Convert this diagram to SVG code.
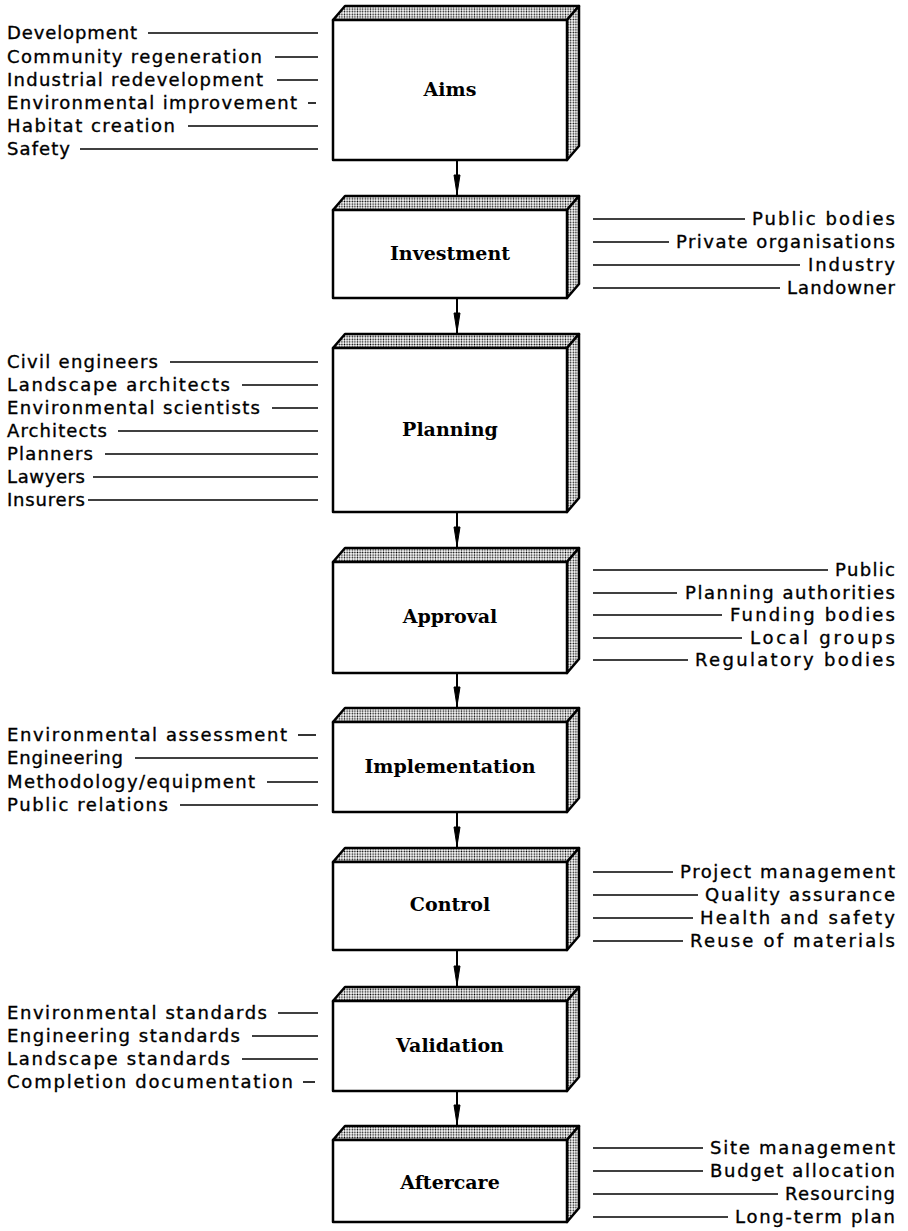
<svg xmlns="http://www.w3.org/2000/svg" width="908" height="1231" viewBox="0 0 908 1231">
<style>
.lbl{font-family:"DejaVu Sans","Liberation Sans",sans-serif;font-size:18px;fill:#000;stroke:#000;stroke-width:0.35}
.r{text-anchor:end}
.ttl{font-family:"DejaVu Serif","Liberation Serif",serif;font-weight:bold;font-size:19px;text-anchor:middle;fill:#000}
.lead{stroke:#000;stroke-width:1.6;fill:none}
.front{fill:#fff;stroke:#000;stroke-width:2.5;stroke-linejoin:round}
.side{fill:url(#dots);stroke:#000;stroke-width:2.5;stroke-linejoin:round}
.conn{stroke:#000;stroke-width:2;fill:none}
.head{fill:#000;stroke:#000;stroke-width:1}
</style>
<defs>
<pattern id="dots" width="2.6" height="2.6" patternUnits="userSpaceOnUse">
<rect width="2.6" height="2.6" fill="#fff"/>
<circle cx="1.3" cy="1.3" r="0.8" fill="#000"/>
</pattern>
</defs>
<rect width="908" height="1231" fill="#fff"/>

<!-- Connectors -->
<g id="connectors">
<line class="conn" x1="457" y1="160" x2="457" y2="206"/><polygon class="head" points="454,175 460,175 457,194"/>
<line class="conn" x1="457" y1="298" x2="457" y2="344"/><polygon class="head" points="454,313 460,313 457,332"/>
<line class="conn" x1="457" y1="512" x2="457" y2="558"/><polygon class="head" points="454,527 460,527 457,546"/>
<line class="conn" x1="457" y1="673" x2="457" y2="718"/><polygon class="head" points="454,687 460,687 457,706"/>
<line class="conn" x1="457" y1="812" x2="457" y2="858"/><polygon class="head" points="454,827 460,827 457,846"/>
<line class="conn" x1="457" y1="950" x2="457" y2="997"/><polygon class="head" points="454,966 460,966 457,985"/>
<line class="conn" x1="457" y1="1091" x2="457" y2="1136"/><polygon class="head" points="454,1105 460,1105 457,1124"/>
</g>

<!-- Aims -->
<g id="aims">
<polygon class="side" points="333,20 345,6 579,6 567,20"/>
<polygon class="side" points="567,20 579,6 579,146 567,160"/>
<rect class="front" x="333" y="20" width="234" height="140"/>
<text class="ttl" x="450" y="96">Aims</text>
<text class="lbl" x="7" y="39" textLength="130" lengthAdjust="spacing">Development</text><line class="lead" x1="148" y1="33" x2="318" y2="33"/>
<text class="lbl" x="7" y="63" textLength="255" lengthAdjust="spacing">Community regeneration</text><line class="lead" x1="275" y1="57" x2="318" y2="57"/>
<text class="lbl" x="7" y="86" textLength="256" lengthAdjust="spacing">Industrial redevelopment</text><line class="lead" x1="277" y1="80" x2="318" y2="80"/>
<text class="lbl" x="7" y="109" textLength="290" lengthAdjust="spacing">Environmental improvement</text><line class="lead" x1="308" y1="103" x2="316" y2="103"/>
<text class="lbl" x="7" y="132" textLength="168" lengthAdjust="spacing">Habitat creation</text><line class="lead" x1="188" y1="126" x2="318" y2="126"/>
<text class="lbl" x="7" y="155" textLength="63" lengthAdjust="spacing">Safety</text><line class="lead" x1="80" y1="149" x2="318" y2="149"/>
</g>

<!-- Investment -->
<g id="investment">
<polygon class="side" points="333,210 345,196 579,196 567,210"/>
<polygon class="side" points="567,210 579,196 579,284 567,298"/>
<rect class="front" x="333" y="210" width="234" height="88"/>
<text class="ttl" x="450" y="260">Investment</text>
<line class="lead" x1="593" y1="219" x2="745" y2="219"/><text class="lbl r" x="895" y="225" textLength="143" lengthAdjust="spacing">Public bodies</text>
<line class="lead" x1="593" y1="242" x2="669" y2="242"/><text class="lbl r" x="895" y="248" textLength="219" lengthAdjust="spacing">Private organisations</text>
<line class="lead" x1="593" y1="265" x2="800" y2="265"/><text class="lbl r" x="895" y="271" textLength="87" lengthAdjust="spacing">Industry</text>
<line class="lead" x1="593" y1="288" x2="780" y2="288"/><text class="lbl r" x="895" y="294" textLength="108" lengthAdjust="spacing">Landowner</text>
</g>

<!-- Planning -->
<g id="planning">
<polygon class="side" points="333,348 345,334 579,334 567,348"/>
<polygon class="side" points="567,348 579,334 579,498 567,512"/>
<rect class="front" x="333" y="348" width="234" height="164"/>
<text class="ttl" x="450" y="436">Planning</text>
<text class="lbl" x="7" y="368" textLength="151" lengthAdjust="spacing">Civil engineers</text><line class="lead" x1="170" y1="362" x2="318" y2="362"/>
<text class="lbl" x="7" y="391" textLength="223" lengthAdjust="spacing">Landscape architects</text><line class="lead" x1="242" y1="385" x2="318" y2="385"/>
<text class="lbl" x="7" y="414" textLength="253" lengthAdjust="spacing">Environmental scientists</text><line class="lead" x1="272" y1="408" x2="318" y2="408"/>
<text class="lbl" x="7" y="437" textLength="100" lengthAdjust="spacing">Architects</text><line class="lead" x1="118" y1="431" x2="318" y2="431"/>
<text class="lbl" x="7" y="460" textLength="86" lengthAdjust="spacing">Planners</text><line class="lead" x1="105" y1="454" x2="318" y2="454"/>
<text class="lbl" x="7" y="483" textLength="78" lengthAdjust="spacing">Lawyers</text><line class="lead" x1="93" y1="477" x2="318" y2="477"/>
<text class="lbl" x="7" y="506" textLength="78" lengthAdjust="spacing">Insurers</text><line class="lead" x1="88" y1="500" x2="318" y2="500"/>
</g>

<!-- Approval -->
<g id="approval">
<polygon class="side" points="333,562 345,548 579,548 567,562"/>
<polygon class="side" points="567,562 579,548 579,659 567,673"/>
<rect class="front" x="333" y="562" width="234" height="111"/>
<text class="ttl" x="450" y="623">Approval</text>
<line class="lead" x1="593" y1="570" x2="828" y2="570"/><text class="lbl r" x="895" y="576" textLength="60" lengthAdjust="spacing">Public</text>
<line class="lead" x1="593" y1="593" x2="677" y2="593"/><text class="lbl r" x="895" y="599" textLength="210" lengthAdjust="spacing">Planning authorities</text>
<line class="lead" x1="593" y1="615" x2="722" y2="615"/><text class="lbl r" x="895" y="621" textLength="165" lengthAdjust="spacing">Funding bodies</text>
<line class="lead" x1="593" y1="638" x2="742" y2="638"/><text class="lbl r" x="895" y="644" textLength="145" lengthAdjust="spacing">Local groups</text>
<line class="lead" x1="593" y1="660" x2="688" y2="660"/><text class="lbl r" x="895" y="666" textLength="200" lengthAdjust="spacing">Regulatory bodies</text>
</g>

<!-- Implementation -->
<g id="implementation">
<polygon class="side" points="333,722 345,708 579,708 567,722"/>
<polygon class="side" points="567,722 579,708 579,798 567,812"/>
<rect class="front" x="333" y="722" width="234" height="90"/>
<text class="ttl" x="450" y="773">Implementation</text>
<text class="lbl" x="7" y="741" textLength="280" lengthAdjust="spacing">Environmental assessment</text><line class="lead" x1="298" y1="735" x2="316" y2="735"/>
<text class="lbl" x="7" y="764" textLength="116" lengthAdjust="spacing">Engineering</text><line class="lead" x1="135" y1="758" x2="318" y2="758"/>
<text class="lbl" x="7" y="788" textLength="248" lengthAdjust="spacing">Methodology/equipment</text><line class="lead" x1="267" y1="782" x2="318" y2="782"/>
<text class="lbl" x="7" y="811" textLength="161" lengthAdjust="spacing">Public relations</text><line class="lead" x1="180" y1="805" x2="318" y2="805"/>
</g>

<!-- Control -->
<g id="control">
<polygon class="side" points="333,862 345,848 579,848 567,862"/>
<polygon class="side" points="567,862 579,848 579,936 567,950"/>
<rect class="front" x="333" y="862" width="234" height="88"/>
<text class="ttl" x="450" y="911">Control</text>
<line class="lead" x1="593" y1="872" x2="673" y2="872"/><text class="lbl r" x="895" y="878" textLength="215" lengthAdjust="spacing">Project management</text>
<line class="lead" x1="593" y1="895" x2="698" y2="895"/><text class="lbl r" x="895" y="901" textLength="190" lengthAdjust="spacing">Quality assurance</text>
<line class="lead" x1="593" y1="918" x2="693" y2="918"/><text class="lbl r" x="895" y="924" textLength="195" lengthAdjust="spacing">Health and safety</text>
<line class="lead" x1="593" y1="941" x2="683" y2="941"/><text class="lbl r" x="895" y="947" textLength="205" lengthAdjust="spacing">Reuse of materials</text>
</g>

<!-- Validation -->
<g id="validation">
<polygon class="side" points="333,1001 345,987 579,987 567,1001"/>
<polygon class="side" points="567,1001 579,987 579,1077 567,1091"/>
<rect class="front" x="333" y="1001" width="234" height="90"/>
<text class="ttl" x="450" y="1052">Validation</text>
<text class="lbl" x="7" y="1019" textLength="260" lengthAdjust="spacing">Environmental standards</text><line class="lead" x1="278" y1="1013" x2="318" y2="1013"/>
<text class="lbl" x="7" y="1042" textLength="233" lengthAdjust="spacing">Engineering standards</text><line class="lead" x1="252" y1="1036" x2="318" y2="1036"/>
<text class="lbl" x="7" y="1065" textLength="223" lengthAdjust="spacing">Landscape standards</text><line class="lead" x1="242" y1="1059" x2="318" y2="1059"/>
<text class="lbl" x="7" y="1088" textLength="286" lengthAdjust="spacing">Completion documentation</text><line class="lead" x1="303" y1="1082" x2="315" y2="1082"/>
</g>

<!-- Aftercare -->
<g id="aftercare">
<polygon class="side" points="333,1140 345,1126 579,1126 567,1140"/>
<polygon class="side" points="567,1140 579,1126 579,1208 567,1222"/>
<rect class="front" x="333" y="1140" width="234" height="82"/>
<text class="ttl" x="450" y="1189">Aftercare</text>
<line class="lead" x1="593" y1="1148" x2="703" y2="1148"/><text class="lbl r" x="895" y="1154" textLength="185" lengthAdjust="spacing">Site management</text>
<line class="lead" x1="593" y1="1171" x2="703" y2="1171"/><text class="lbl r" x="895" y="1177" textLength="185" lengthAdjust="spacing">Budget allocation</text>
<line class="lead" x1="593" y1="1194" x2="778" y2="1194"/><text class="lbl r" x="895" y="1200" textLength="110" lengthAdjust="spacing">Resourcing</text>
<line class="lead" x1="593" y1="1217" x2="728" y2="1217"/><text class="lbl r" x="895" y="1223" textLength="160" lengthAdjust="spacing">Long-term plan</text>
</g>
</svg>
